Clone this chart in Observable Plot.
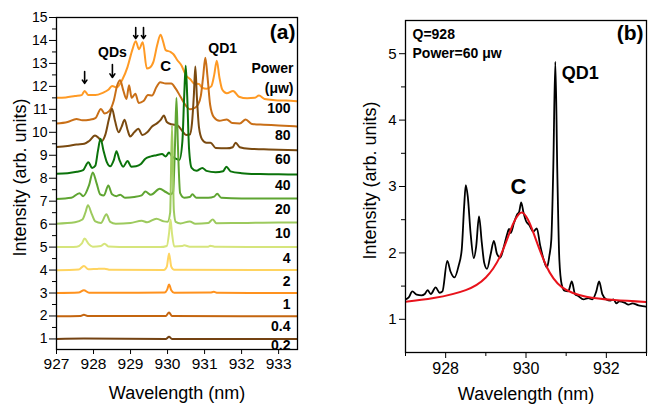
<!DOCTYPE html>
<html><head><meta charset="utf-8">
<script src="https://cdn.jsdelivr.net/npm/d3@7"></script>
<script src="https://cdn.jsdelivr.net/npm/@observablehq/plot@0.6"></script>
<style>
html,body{margin:0;padding:0;background:#fff;}
#wrap{position:relative;width:649px;height:404px;overflow:hidden;font-family:"Liberation Sans",Arial,sans-serif;}
#a{position:absolute;left:0;top:0;}
#b{position:absolute;left:330px;top:0;}
</style></head><body><div id="wrap"><div id="a"></div><div id="b"></div></div>
<script>
// ---------- Panel (a): power-dependent spectra (offset vertically) ----------
const powerLabels = ["100","80","60","40","20","10","4","2","1","0.4","0.2"];
const offsets = [11.5, 10.35, 9.3, 8.15, 7.1, 6.05, 5.0, 4.0, 3.0, 2.0, 1.0];
const powerColors = ["#ff9a24","#c96f17","#7a4a10","#0b730b","#5fa532","#9dca5e","#d6e57c","#ffd460","#ff921e","#c4650f","#744212"];

const spec100 = [[927.00,11.50],[927.25,11.52],[927.50,11.58],[927.68,11.62],[927.76,11.80],[927.86,11.62],[928.05,11.62],[928.25,11.72],[928.40,11.85],[928.50,12.02],[928.62,11.95],[928.78,12.30],[928.92,12.85],[929.05,13.60],[929.14,13.97],[929.23,13.62],[929.33,13.92],[929.44,12.78],[929.52,12.82],[929.62,13.08],[929.72,13.80],[929.81,14.25],[929.88,13.95],[929.95,13.58],[930.08,13.50],[930.16,13.40],[930.26,13.15],[930.38,12.90],[930.49,12.50],[930.62,12.30],[930.72,12.12],[930.85,12.10],[930.93,11.95],[931.05,11.90],[931.18,12.00],[931.26,12.50],[931.33,13.12],[931.40,12.40],[931.48,11.85],[931.60,11.70],[931.77,11.80],[931.93,11.55],[932.15,11.48],[932.35,11.50],[932.47,11.60],[932.62,11.45],[932.90,11.40],[933.20,11.38],[933.51,11.35]];
const spec80 = [[927.00,10.38],[927.30,10.45],[927.54,10.58],[927.70,10.52],[927.90,10.55],[928.05,10.62],[928.20,11.02],[928.30,10.82],[928.42,10.92],[928.55,11.40],[928.64,12.05],[928.72,12.27],[928.80,11.85],[928.89,11.45],[928.96,12.05],[929.03,11.50],[929.13,11.68],[929.22,11.28],[929.35,11.36],[929.47,11.62],[929.58,11.60],[929.70,11.97],[929.80,12.18],[929.95,12.12],[930.10,12.12],[930.22,11.90],[930.35,11.55],[930.50,11.15],[930.60,11.00],[930.72,11.05],[930.82,11.20],[930.90,11.60],[930.96,12.40],[931.02,13.25],[931.08,12.40],[931.15,11.20],[931.25,10.66],[931.40,10.50],[931.60,10.56],[931.75,10.40],[931.95,10.38],[932.11,10.56],[932.28,10.36],[932.60,10.33],[933.00,10.30],[933.51,10.25]];
const spec60 = [[927.00,9.36],[927.30,9.40],[927.54,9.47],[927.75,9.50],[927.88,9.62],[928.04,9.86],[928.14,9.75],[928.22,9.62],[928.32,9.90],[928.42,10.60],[928.50,11.03],[928.58,10.50],[928.68,10.00],[928.76,10.25],[928.84,10.55],[928.92,10.10],[928.99,9.82],[929.10,10.00],[929.21,10.15],[929.32,9.88],[929.45,10.00],[929.58,10.25],[929.72,10.40],[929.82,10.55],[929.90,10.73],[929.98,10.45],[930.10,10.35],[930.27,10.30],[930.40,10.05],[930.50,9.88],[930.60,9.90],[930.66,10.40],[930.71,11.60],[930.75,12.87],[930.79,11.60],[930.85,10.20],[930.93,9.70],[931.05,9.55],[931.16,9.55],[931.30,9.32],[931.60,9.30],[931.76,9.35],[931.84,9.55],[931.95,9.35],[932.20,9.28],[932.60,9.26],[933.00,9.24],[933.51,9.22]];
const spec40 = [[927.00,8.20],[927.30,8.22],[927.55,8.28],[927.72,8.35],[927.86,8.70],[927.96,8.45],[928.05,8.55],[928.12,9.20],[928.19,9.72],[928.27,9.20],[928.36,8.70],[928.45,8.52],[928.55,8.80],[928.62,9.18],[928.70,8.80],[928.80,8.50],[928.92,8.75],[929.02,8.50],[929.15,8.52],[929.28,8.62],[929.40,8.85],[929.55,8.95],[929.70,9.00],[929.85,9.05],[929.95,8.95],[930.04,9.12],[930.12,8.95],[930.22,8.85],[930.32,8.80],[930.40,9.60],[930.45,11.60],[930.49,12.90],[930.53,11.60],[930.58,9.30],[930.65,8.45],[930.78,8.32],[930.94,8.45],[931.05,8.32],[931.30,8.26],[931.50,8.30],[931.59,8.50],[931.70,8.30],[932.00,8.22],[932.50,8.18],[933.00,8.17],[933.51,8.16]];
const spec20 = [[927.00,7.10],[927.40,7.15],[927.62,7.35],[927.72,7.22],[927.88,7.70],[927.98,8.25],[928.08,7.80],[928.18,7.30],[928.28,7.25],[928.40,7.68],[928.50,7.30],[928.62,7.22],[928.72,7.28],[928.85,7.15],[929.10,7.18],[929.30,7.25],[929.40,7.42],[929.55,7.28],[929.79,7.54],[929.95,7.40],[930.08,7.30],[930.15,7.40],[930.20,9.40],[930.24,11.50],[930.28,9.40],[930.34,7.35],[930.45,7.15],[930.60,7.18],[930.67,7.30],[930.78,7.15],[931.10,7.15],[931.26,7.20],[931.34,7.32],[931.45,7.15],[932.00,7.12],[933.00,7.12],[933.51,7.12]];
const spec10 = [[927.00,6.02],[927.50,6.08],[927.70,6.20],[927.78,6.50],[927.85,6.82],[927.95,6.45],[928.05,6.12],[928.20,6.05],[928.35,6.43],[928.45,6.10],[928.60,6.02],[929.00,6.05],[929.30,6.15],[929.45,6.08],[929.70,6.24],[929.90,6.12],[930.00,6.10],[930.07,6.50],[930.12,10.30],[930.17,6.60],[930.22,6.10],[930.35,6.03],[930.60,6.12],[930.75,6.02],[931.10,6.05],[931.22,6.20],[931.32,6.04],[932.00,6.05],[933.00,6.07],[933.51,6.07]];
const spec4 = [[927.00,5.00],[927.55,5.02],[927.68,5.15],[927.76,5.37],[927.86,5.15],[927.98,5.02],[928.20,5.05],[928.30,5.15],[928.40,5.03],[929.00,5.00],[929.80,5.00],[929.98,5.05],[930.04,5.60],[930.08,6.20],[930.12,5.60],[930.18,5.03],[930.40,5.05],[930.45,5.08],[930.60,5.02],[931.10,5.02],[931.15,5.06],[931.30,5.01],[933.51,5.00]];
const spec2 = [[927.00,3.99],[927.60,4.02],[927.74,4.18],[927.86,4.03],[928.10,4.05],[928.30,4.06],[928.45,4.01],[929.90,4.00],[929.98,4.15],[930.04,4.72],[930.10,4.15],[930.18,4.01],[933.51,4.00]];
const spec1 = [[927.00,3.00],[927.60,3.02],[927.74,3.12],[927.88,3.01],[929.92,3.02],[929.99,3.15],[930.04,3.37],[930.10,3.12],[930.18,3.01],[931.15,3.02],[931.25,3.05],[931.35,3.01],[933.51,3.00]];
const spec04 = [[927.00,1.99],[927.65,2.00],[927.74,2.05],[927.84,2.00],[929.95,2.00],[930.04,2.15],[930.12,2.00],[933.51,1.99]];
const spec02 = [[927.00,1.00],[927.74,1.02],[929.95,1.00],[930.04,1.09],[930.12,1.00],[933.51,1.00]];
const spectraA = [spec100, spec80, spec60, spec40, spec20, spec10, spec4, spec2, spec1, spec04, spec02];

const xTicksA = [927, 928, 929, 930, 931, 932, 933];
const yTicksA = [1,2,3,4,5,6,7,8,9,10,11,12,13,14,15];
const yMinorA = [1.5,2.5,3.5,4.5,5.5,6.5,7.5,8.5,9.5,10.5,11.5,12.5,13.5,14.5];
// arrows marking QD lines: wavelength, top, bottom
const arrowW = [927.76, 928.51, 929.14, 929.35];
const arrowTop = [12.65, 12.95, 14.56, 14.56];
const arrowBot = [12.13, 12.39, 14.08, 14.08];

// ---------- Panel (b): Q=928, 60 µW spectrum with Lorentzian fit ----------
const specB = [[927.00,1.30],[927.08,1.33],[927.17,1.42],[927.28,1.37],[927.40,1.36],[927.48,1.38],[927.55,1.44],[927.63,1.38],[927.75,1.48],[927.85,1.40],[927.92,1.42],[928.04,1.88],[928.12,1.72],[928.22,1.63],[928.32,1.80],[928.40,2.05],[928.46,2.70],[928.50,3.02],[928.55,2.85],[928.62,2.30],[928.70,1.92],[928.76,2.10],[928.83,2.55],[928.90,2.15],[928.96,1.85],[929.03,1.76],[929.12,1.98],[929.20,2.18],[929.28,1.98],[929.36,1.93],[929.46,2.12],[929.53,2.28],[929.58,2.36],[929.62,2.30],[929.70,2.45],[929.78,2.58],[929.83,2.62],[929.88,2.76],[929.94,2.60],[930.00,2.48],[930.08,2.42],[930.18,2.32],[930.27,2.37],[930.35,2.12],[930.45,1.88],[930.52,1.78],[930.58,1.95],[930.63,2.20],[930.68,3.30],[930.73,4.88],[930.78,3.20],[930.83,1.90],[930.89,1.52],[930.96,1.43],[931.05,1.42],[931.14,1.57],[931.22,1.38],[931.30,1.35],[931.43,1.30],[931.55,1.32],[931.65,1.30],[931.75,1.42],[931.82,1.57],[931.90,1.38],[932.00,1.30],[932.10,1.28],[932.18,1.30],[932.25,1.24],[932.32,1.27],[932.45,1.25],[932.55,1.22],[932.65,1.24],[932.80,1.21],[932.90,1.20],[933.00,1.19]];
const fitB = [[927.00,1.265],[927.70,1.32],[928.50,1.44],[929.00,1.63],[929.35,1.94],[929.60,2.32],[929.75,2.52],[929.90,2.61],[930.05,2.50],[930.20,2.28],[930.50,1.81],[930.90,1.48],[931.50,1.34],[932.20,1.29],[933.00,1.26]];
const xTicksB = [928, 930, 932];
const xMinorB = [927, 929, 931, 933];
const yTicksB = [1, 2, 3, 4, 5];
const yMinorB = [1.5, 2.5, 3.5, 4.5];

const font = '"Liberation Sans", Arial, sans-serif';

const rowsA = spectraA.flatMap((s, i) => s.map(([w, v]) => ({w, v, p: powerLabels[i]})));
const upperLabels = powerLabels.slice(0, 10);
const lowestLabel = powerLabels.slice(10);

const plotA = Plot.plot({
  width: 330, height: 404,
  marginLeft: 56, marginRight: 33, marginTop: 17, marginBottom: 55,
  x: {domain: [927, 933.51], label: null},
  y: {domain: [0.54, 15], label: null},
  color: {domain: powerLabels, range: powerColors},
  style: {fontFamily: font, background: "white", color: "#000"},
  marks: [
    Plot.line(rowsA, {x: "w", y: "v", z: "p", stroke: "p", strokeWidth: 2, curve: "monotone-x", clip: true}),
    Plot.frame({stroke: "#000", strokeWidth: 1.3}),
    Plot.axisX({ticks: xTicksA, tickSize: 5, tickPadding: 3, fontSize: 15.5, tickFormat: d => String(d), label: null}),
    Plot.axisY({ticks: yTicksA, tickSize: 7, tickPadding: 2, fontSize: 14, tickFormat: d => String(d), label: null}),
    Plot.axisY({ticks: yMinorA, tickSize: 4, tickFormat: () => "", label: null}),
    Plot.arrow(arrowW, {x1: d => d, x2: d => d, y1: (d, i) => arrowTop[i], y2: (d, i) => arrowBot[i], stroke: "#000", strokeWidth: 1.6, headLength: 6, headAngle: 70}),
    Plot.text(["QDs"], {x: () => 928.51, y: () => 13.48, fontWeight: "bold", fontSize: 14}),
    Plot.text(["C"], {x: () => 929.95, y: () => 12.87, fontWeight: "bold", fontSize: 15}),
    Plot.text(["QD1"], {x: () => 931.49, y: () => 13.65, fontWeight: "bold", fontSize: 14}),
    Plot.text(["(a)"], {frameAnchor: "top-right", dx: -2, dy: 15, textAnchor: "end", lineAnchor: "middle", fontWeight: "bold", fontSize: 21}),
    Plot.text(["Power"], {frameAnchor: "top-right", dx: -4, dy: 51, textAnchor: "end", lineAnchor: "middle", fontWeight: "bold", fontSize: 14}),
    Plot.text(["(\u03bcw)"], {frameAnchor: "top-right", dx: -4, dy: 71, textAnchor: "end", lineAnchor: "middle", fontWeight: "bold", fontSize: 14}),
    Plot.text(upperLabels, {x: () => 933.51, y: (d, i) => offsets[i], dx: -7, dy: 11, textAnchor: "end", lineAnchor: "middle", fontWeight: "bold", fontSize: 14}),
    Plot.text(lowestLabel, {x: () => 933.51, y: () => offsets[10], dx: -7, dy: 7, textAnchor: "end", lineAnchor: "middle", fontWeight: "bold", fontSize: 14, clip: true}),
    Plot.text(["Wavelength (nm)"], {frameAnchor: "bottom", dy: 44, textAnchor: "middle", lineAnchor: "middle", fontSize: 18}),
    Plot.text(["Intensity (arb. units)"], {frameAnchor: "left", dx: -36, dy: -6, rotate: -90, textAnchor: "middle", lineAnchor: "middle", fontSize: 18})
  ]
});
document.getElementById("a").appendChild(plotA);

const plotB = Plot.plot({
  width: 319, height: 404,
  marginLeft: 75, marginRight: 3, marginTop: 20, marginBottom: 52,
  x: {domain: [927, 933], label: null},
  y: {domain: [0.5, 5.5], label: null},
  style: {fontFamily: font, background: "white", color: "#000"},
  marks: [
    Plot.line(specB, {x: d => d[0], y: d => d[1], stroke: "#000", strokeWidth: 1.8, curve: "monotone-x", clip: true}),
    Plot.line(fitB, {x: d => d[0], y: d => d[1], stroke: "#e8121b", strokeWidth: 2, curve: "natural", clip: true}),
    Plot.frame({stroke: "#000", strokeWidth: 1.3}),
    Plot.axisX({ticks: xTicksB, tickSize: 6, tickPadding: 4, fontSize: 16, tickFormat: d => String(d), label: null}),
    Plot.axisX({ticks: xMinorB, tickSize: 4, tickFormat: () => "", label: null}),
    Plot.axisY({ticks: yTicksB, tickSize: 6, tickPadding: 3, fontSize: 15, tickFormat: d => String(d), label: null}),
    Plot.axisY({ticks: yMinorB, tickSize: 4, tickFormat: () => "", label: null}),
    Plot.text(["Q=928"], {frameAnchor: "top-left", dx: 7, dy: 14, textAnchor: "start", lineAnchor: "middle", fontWeight: "bold", fontSize: 14}),
    Plot.text(["Power=60 \u03bcw"], {frameAnchor: "top-left", dx: 7, dy: 33, textAnchor: "start", lineAnchor: "middle", fontWeight: "bold", fontSize: 14}),
    Plot.text(["(b)"], {frameAnchor: "top-right", dx: -3, dy: 13, textAnchor: "end", lineAnchor: "middle", fontWeight: "bold", fontSize: 21}),
    Plot.text(["QD1"], {x: () => 930.89, y: () => 4.71, textAnchor: "start", lineAnchor: "middle", fontWeight: "bold", fontSize: 18}),
    Plot.text(["C"], {x: () => 929.81, y: () => 2.99, lineAnchor: "middle", fontWeight: "bold", fontSize: 22}),
    Plot.text(["Wavelength (nm)"], {frameAnchor: "bottom", dy: 42, textAnchor: "middle", lineAnchor: "middle", fontSize: 18}),
    Plot.text(["Intensity (arb. units)"], {frameAnchor: "left", dx: -35, dy: -6, rotate: -90, textAnchor: "middle", lineAnchor: "middle", fontSize: 18})
  ]
});
document.getElementById("b").appendChild(plotB);
</script>
</body></html>
